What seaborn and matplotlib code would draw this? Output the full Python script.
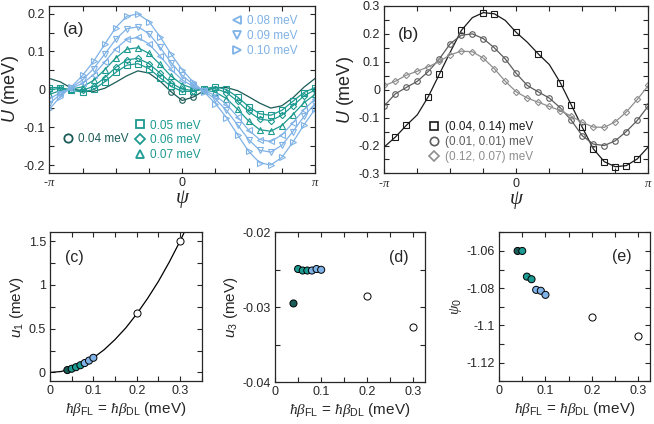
import numpy as np
import matplotlib
matplotlib.use('Agg')
import matplotlib.pyplot as plt
from matplotlib.lines import Line2D
from matplotlib.ticker import MultipleLocator, FuncFormatter, FixedLocator
import seaborn as sns

sns.set_style('ticks')
plt.rcParams['font.family'] = ['Liberation Sans', 'DejaVu Sans']
plt.rcParams['mathtext.fontset'] = 'custom'
plt.rcParams['mathtext.rm'] = 'Liberation Sans'
plt.rcParams['mathtext.it'] = 'Liberation Serif:italic'
plt.rcParams['mathtext.sf'] = 'Liberation Sans:italic'
plt.rcParams['axes.unicode_minus'] = False

# ---- data ----
# sample positions of psi (degrees, every 15 deg)
psi_deg = np.arange(-180, 181, 15)
psi = np.deg2rad(psi_deg)

# panel (a): U(psi) for hbar*beta = 0.04 ... 0.10 meV
U_004 = [0.029, 0.020, 0.003, -0.005, -0.005, 0.003, 0.019, 0.036, 0.049, 0.043, 0.022, -0.006, -0.029,
         -0.020, -0.003, 0.005, 0.005, -0.003, -0.019, -0.036, -0.049, -0.043, -0.022, 0.006, 0.029]
U_005 = [0.005, 0.005, -0.002, -0.007, 0.000, 0.020, 0.045, 0.064, 0.068, 0.055, 0.031, 0.008, -0.005,
         -0.005, 0.002, 0.007, 0.000, -0.020, -0.045, -0.064, -0.068, -0.055, -0.031, -0.008, 0.005]
U_006 = [-0.001, 0.003, -0.001, -0.002, 0.008, 0.031, 0.058, 0.078, 0.082, 0.068, 0.043, 0.017, 0.001,
         -0.003, 0.001, 0.002, -0.008, -0.031, -0.058, -0.078, -0.082, -0.068, -0.043, -0.017, -0.001]
U_007 = [-0.013, -0.003, 0.001, 0.007, 0.024, 0.052, 0.083, 0.106, 0.110, 0.095, 0.066, 0.035, 0.013,
         0.003, -0.001, -0.007, -0.024, -0.052, -0.083, -0.106, -0.110, -0.095, -0.066, -0.035, -0.013]
U_008 = [-0.025, -0.008, 0.003, 0.016, 0.039, 0.072, 0.107, 0.132, 0.137, 0.120, 0.088, 0.053, 0.025,
         0.008, -0.003, -0.016, -0.039, -0.072, -0.107, -0.132, -0.137, -0.120, -0.088, -0.053, -0.025]
U_009 = [-0.037, -0.013, 0.005, 0.025, 0.055, 0.093, 0.132, 0.160, 0.165, 0.147, 0.111, 0.071, 0.037,
         0.013, -0.005, -0.025, -0.055, -0.093, -0.132, -0.160, -0.165, -0.147, -0.111, -0.071, -0.037]
U_010 = [-0.052, -0.019, 0.007, 0.037, 0.074, 0.119, 0.163, 0.193, 0.199, 0.179, 0.139, 0.093, 0.052,
         0.019, -0.007, -0.037, -0.074, -0.119, -0.163, -0.193, -0.199, -0.179, -0.139, -0.093, -0.052]

# panel (b): U(psi) for (hbar*beta_FL, hbar*beta_DL)
U_b1 = [-0.205, -0.170, -0.128, -0.090, -0.025, 0.055, 0.135, 0.212, 0.258, 0.276, 0.272, 0.248, 0.205,
        0.170, 0.128, 0.090, 0.025, -0.055, -0.135, -0.212, -0.258, -0.276, -0.272, -0.248, -0.205]
U_b2 = [-0.058, -0.015, 0.008, 0.030, 0.065, 0.110, 0.165, 0.195, 0.200, 0.183, 0.150, 0.110, 0.058,
        0.015, -0.008, -0.030, -0.065, -0.110, -0.165, -0.195, -0.200, -0.183, -0.150, -0.110, -0.058]
U_b3 = [0.015, 0.030, 0.052, 0.066, 0.082, 0.101, 0.125, 0.138, 0.136, 0.113, 0.075, 0.030, -0.008,
        -0.030, -0.045, -0.060, -0.075, -0.095, -0.117, -0.134, -0.135, -0.115, -0.080, -0.035, 0.015]

# panels (c)-(e): fit parameters vs hbar*beta
beta = [0.04, 0.05, 0.06, 0.07, 0.08, 0.09, 0.10]
u1 = [0.027, 0.042, 0.060, 0.082, 0.107, 0.135, 0.167]
u3 = [-0.0295, -0.0249, -0.0251, -0.0251, -0.0251, -0.0249, -0.0250]
psi0 = [-1.060, -1.060, -1.0738, -1.0752, -1.0809, -1.0814, -1.0836]
beta_open = [0.2, 0.3]
u1_open = [0.68, 1.50]
u3_open = [-0.02845, -0.0327]
psi0_open = [-1.0954, -1.1058]
# smooth fit line through u1 in (c)
fit_beta = [0, 0.025, 0.05, 0.075, 0.1, 0.125, 0.15, 0.175, 0.2, 0.225, 0.25, 0.275, 0.3, 0.31]
fit_u1 = [0, 0.010, 0.042, 0.094, 0.167, 0.26, 0.376, 0.51, 0.668, 0.845, 1.04, 1.26, 1.5, 1.605]

# ---- colours ----
dark = '#1c5c58'
teal = '#1d9a91'
blue = '#7fb2e6'
pt_colors = [dark, teal, teal, teal, blue, blue, blue]
g1, g2, g3 = '#1a1a1a', '#5c5c5c', '#8e8e8e'


def make_fmt(step):
    def f(v, pos):
        r = v / step
        if abs(r - round(r)) > 1e-6:
            return ''
        v = round(v, 6)
        if v == 0:
            return '0'
        return f'{v:g}'
    return FuncFormatter(f)


def style_ax(ax):
    ax.tick_params(which='both', direction='in', top=True, right=True,
                   length=3.5, width=0.8, labelsize=9, pad=3)
    for s in ax.spines.values():
        s.set_linewidth(0.9)


def psi_axis(ax):
    ax.set_xlim(-np.pi, np.pi)
    ax.xaxis.set_major_locator(FixedLocator(np.deg2rad(np.arange(-180, 181, 45))))
    lab = {-180: '-$\\pi$', 0: '0', 180: '$\\pi$'}
    ax.xaxis.set_major_formatter(FuncFormatter(
        lambda v, p: lab.get(int(round(np.rad2deg(v))), '')))
    ax.set_xlabel('ψ', family='Liberation Serif', style='italic', fontsize=15, labelpad=0)


fig = plt.figure(figsize=(6.54, 4.24), dpi=100)
ax_a = fig.add_axes([0.0754, 0.592, 0.4063, 0.394])
ax_b = fig.add_axes([0.5876, 0.591, 0.4037, 0.395])
ax_c = fig.add_axes([0.0765, 0.101, 0.232, 0.351])
ax_d = fig.add_axes([0.4205, 0.099, 0.2294, 0.353])
ax_e = fig.add_axes([0.763, 0.101, 0.2309, 0.351])

# ---- (a) ----
series_a = [
    ('0.04 meV', U_004, dark, 'o', [11, 12, 13]),
    ('0.05 meV', U_005, teal, 's', None),
    ('0.06 meV', U_006, teal, 'D', None),
    ('0.07 meV', U_007, teal, '^', None),
    ('0.08 meV', U_008, blue, '<', None),
    ('0.09 meV', U_009, blue, 'v', None),
    ('0.10 meV', U_010, blue, '>', None),
]
handles_a = []
for lab, vals, col, mk, every in series_a:
    ms = 3.2 if mk == 'D' else 4
    sns.lineplot(x=psi, y=vals, ax=ax_a, color=col, lw=0.9, marker=mk, markersize=ms,
                 markerfacecolor='none', markeredgecolor=col, markeredgewidth=0.8,
                 markevery=every, legend=False)
    handles_a.append(Line2D([], [], ls='none', marker=mk, ms=6 if mk != 'D' else 5,
                            mfc='none', mec=col, mew=1.3))
labels_a = [s[0] for s in series_a]
ax_a.set_ylim(-0.22, 0.22)
ax_a.yaxis.set_major_locator(MultipleLocator(0.05))
ax_a.yaxis.set_major_formatter(make_fmt(0.1))
psi_axis(ax_a)
ax_a.set_ylabel('$\\mathsf{U}$ (meV)', fontsize=13, labelpad=2)
style_ax(ax_a)
ax_a.text(0.05, 0.86, '(a)', transform=ax_a.transAxes, fontsize=12.5, va='center')

leg_kw = dict(frameon=False, handlelength=0.9, handletextpad=0.4, labelspacing=0.25,
              borderpad=0, borderaxespad=0, fontsize=8.5)
l1 = ax_a.legend(handles_a[:1], labels_a[:1], loc='center left', bbox_to_anchor=(0.05, 0.204),
                 labelcolor=[dark], **leg_kw)
ax_a.add_artist(l1)
l2 = ax_a.legend(handles_a[1:4], labels_a[1:4], loc='upper left', bbox_to_anchor=(0.32, 0.32),
                 labelcolor=[teal] * 3, **leg_kw)
ax_a.add_artist(l2)
ax_a.legend(handles_a[4:], labels_a[4:], loc='upper right', bbox_to_anchor=(0.935, 0.945),
            labelcolor=[blue] * 3, **leg_kw)

# ---- (b) ----
series_b = [
    ('(0.04, 0.14) meV', U_b1, g1, 's', [1, 2, 4, 5, 7, 9, 10, 12, 14, 16, 17, 18, 19, 20, 21, 22, 23]),
    ('(0.01, 0.01) meV', U_b2, g2, 'o', None),
    ('(0.12, 0.07) meV', U_b3, g3, 'D', None),
]
handles_b = []
for lab, vals, col, mk, every in series_b:
    ms = 3.2 if mk == 'D' else 4
    sns.lineplot(x=psi, y=vals, ax=ax_b, color=col, lw=0.9, marker=mk, markersize=ms,
                 markerfacecolor='none', markeredgecolor=col, markeredgewidth=0.8,
                 markevery=every, legend=False)
    handles_b.append(Line2D([], [], ls='none', marker=mk, ms=6 if mk != 'D' else 5,
                            mfc='none', mec=col, mew=1.2))
ax_b.set_ylim(-0.3, 0.3)
ax_b.yaxis.set_major_locator(MultipleLocator(0.05))
ax_b.yaxis.set_major_formatter(make_fmt(0.1))
psi_axis(ax_b)
ax_b.set_ylabel('$\\mathsf{U}$ (meV)', fontsize=13, labelpad=2)
style_ax(ax_b)
ax_b.text(0.05, 0.83, '(b)', transform=ax_b.transAxes, fontsize=12.5, va='center')
ax_b.legend(handles_b, [s[0] for s in series_b], loc='upper left', bbox_to_anchor=(0.17, 0.31),
            labelcolor=[g1, g2, g3], **leg_kw)

# ---- (c)-(e) ----
hue_lab = [f'{b:.2f}' for b in beta]
pal = dict(zip(hue_lab, pt_colors))
xl = '$\\hbar\\beta_{\\mathrm{FL}}$ = $\\hbar\\beta_{\\mathrm{DL}}$ (meV)'

sns.lineplot(x=fit_beta, y=fit_u1, ax=ax_c, color='black', lw=0.9, legend=False)
for ax, ys, yo in [(ax_c, u1, u1_open), (ax_d, u3, u3_open), (ax_e, psi0, psi0_open)]:
    sns.scatterplot(x=beta, y=ys, hue=hue_lab, palette=pal, ax=ax, s=26, edgecolor='black',
                    linewidth=0.7, legend=False, zorder=3)
    sns.scatterplot(x=beta_open, y=yo, ax=ax, s=26, color='white', edgecolor='black',
                    linewidth=0.7, legend=False, zorder=3)
    ax.xaxis.set_major_locator(MultipleLocator(0.05))
    ax.xaxis.set_major_formatter(make_fmt(0.1))
    ax.set_xlabel(xl, fontsize=11, labelpad=2)
    style_ax(ax)

ax_c.set_xlim(0, 0.35)
ax_c.set_ylim(-0.1, 1.6)
ax_c.yaxis.set_major_locator(MultipleLocator(0.25))
ax_c.yaxis.set_major_formatter(make_fmt(0.5))
ax_c.set_ylabel('$\\mathsf{u}_{1}$ (meV)', fontsize=11, labelpad=2)
ax_c.text(0.1, 0.83, '(c)', transform=ax_c.transAxes, fontsize=11.5, va='center')

ax_d.set_xlim(0, 0.325)
ax_d.set_ylim(-0.04, -0.02)
ax_d.yaxis.set_major_locator(MultipleLocator(0.005))
ax_d.yaxis.set_major_formatter(make_fmt(0.01))
ax_d.set_ylabel('$\\mathsf{u}_{3}$ (meV)', fontsize=11, labelpad=2)
ax_d.text(0.89, 0.835, '(d)', transform=ax_d.transAxes, fontsize=11.5, va='center', ha='right')

ax_e.set_xlim(0, 0.325)
ax_e.set_ylim(-1.13, -1.05)
ax_e.yaxis.set_major_locator(MultipleLocator(0.01))
ax_e.yaxis.set_major_formatter(make_fmt(0.02))
ax_e.set_ylabel('$\\psi_{0}$', fontsize=11, labelpad=2)
ax_e.text(0.88, 0.835, '(e)', transform=ax_e.transAxes, fontsize=11.5, va='center', ha='right')

fig.savefig('out.png', dpi=100)
